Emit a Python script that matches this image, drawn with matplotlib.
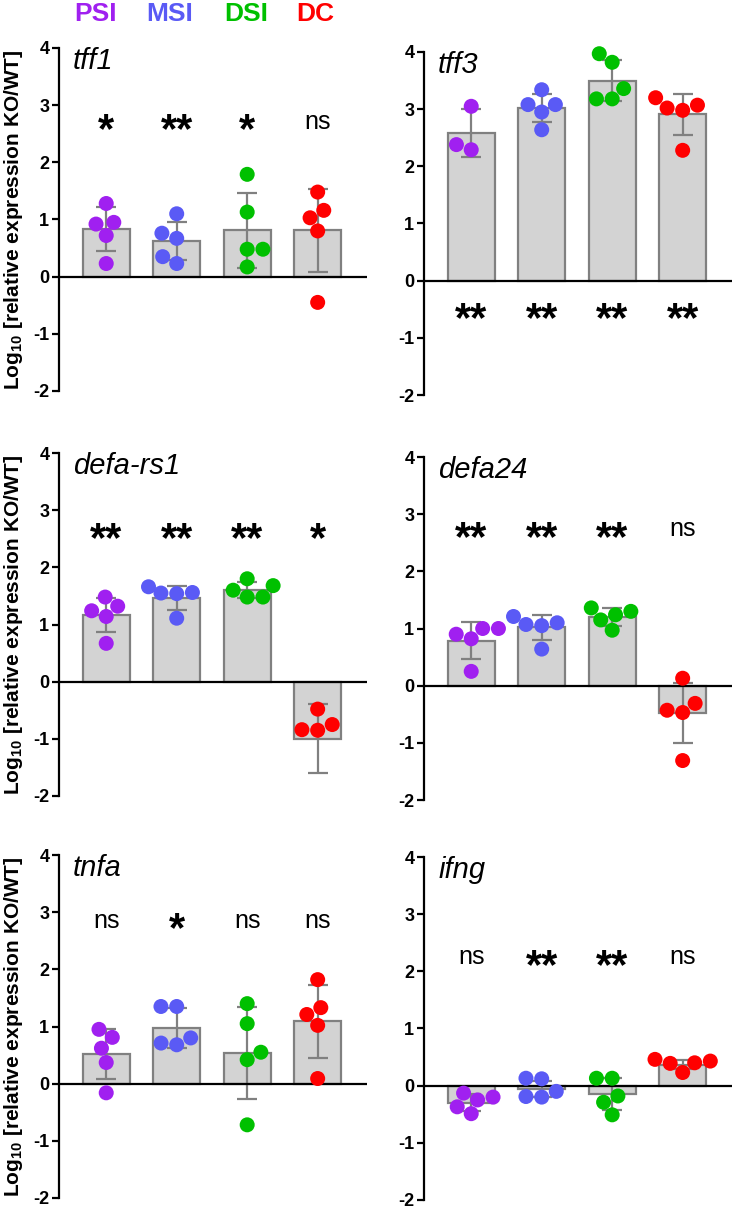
import matplotlib
matplotlib.use('Agg')
import matplotlib.pyplot as plt
import numpy as np
import pandas as pd
import seaborn as sns

plt.rcParams['font.family'] = ['Liberation Sans', 'DejaVu Sans']
plt.rcParams['mathtext.fontset'] = 'custom'
plt.rcParams['mathtext.rm'] = 'Liberation Sans'
plt.rcParams['mathtext.bf'] = 'Liberation Sans:bold'
plt.rcParams['axes.unicode_minus'] = False

groups = ['PSI', 'MSI', 'DSI', 'DC']
group_colors = ['#a020f0', '#5a5af5', '#00c000', '#ff0000']
genes = ['tff1', 'tff3', 'defa-rs1', 'defa24', 'tnfa', 'ifng']

# bar heights (mean) and SD
bar_means = {
    'tff1': [0.83, 0.63, 0.81, 0.81],
    'tff3': [2.58, 3.02, 3.50, 2.91],
    'defa-rs1': [1.17, 1.46, 1.60, -1.00],
    'defa24': [0.79, 1.02, 1.20, -0.48],
    'tnfa': [0.52, 0.98, 0.54, 1.09],
    'ifng': [-0.30, -0.05, -0.15, 0.37],
}
bar_sd = {
    'tff1': [0.38, 0.33, 0.65, 0.73],
    'tff3': [0.42, 0.25, 0.365, 0.355],
    'defa-rs1': [0.30, 0.21, 0.14, 0.605],
    'defa24': [0.315, 0.22, 0.155, 0.52],
    'tnfa': [0.445, 0.35, 0.80, 0.64],
    'ifng': [0.15, 0.14, 0.28, 0.08],
}

# individual animals
points = {
    'tff1': [[1.28, 0.92, 0.95, 0.72, 0.23],
             [1.10, 0.76, 0.67, 0.35, 0.23],
             [1.79, 1.13, 0.48, 0.48, 0.17],
             [1.48, 1.16, 1.03, 0.80, -0.45]],
    'tff3': [[3.05, 2.29, 2.38],
             [3.34, 3.08, 3.08, 2.95, 2.64],
             [3.97, 3.82, 3.36, 3.18, 3.18],
             [3.20, 3.02, 2.98, 3.07, 2.28]],
    'defa-rs1': [[1.48, 1.24, 1.32, 1.14, 0.67],
                 [1.66, 1.55, 1.54, 1.56, 1.11],
                 [1.80, 1.60, 1.68, 1.48, 1.48],
                 [-0.48, -0.75, -0.85, -0.84]],
    'defa24': [[1.00, 1.00, 0.90, 0.82, 0.25],
               [1.21, 1.07, 1.05, 1.10, 0.64],
               [1.36, 1.24, 1.30, 1.15, 0.97],
               [0.13, -0.31, -0.43, -0.47, -1.31]],
    'tnfa': [[0.95, 0.81, 0.62, 0.37, -0.16],
             [1.35, 1.35, 0.80, 0.68, 0.71],
             [1.40, 1.05, 0.55, 0.42, -0.72],
             [1.82, 1.33, 1.21, 1.02, 0.09]],
    'ifng': [[-0.13, -0.25, -0.20, -0.37, -0.49],
             [0.13, 0.12, -0.10, -0.20, -0.19],
             [0.13, 0.13, -0.18, -0.29, -0.51],
             [0.46, 0.40, 0.39, 0.43, 0.23]],
}

sig_labels = {
    'tff1': ['*', '**', '*', 'ns'],
    'tff3': ['**', '**', '**', '**'],
    'defa-rs1': ['**', '**', '**', '*'],
    'defa24': ['**', '**', '**', 'ns'],
    'tnfa': ['ns', '*', 'ns', 'ns'],
    'ifng': ['ns', '**', '**', 'ns'],
}
sig_y = {'tff1': 2.70, 'tff3': -0.53, 'defa-rs1': 2.63,
         'defa24': 2.73, 'tnfa': 2.84, 'ifng': 2.24}

W, H = 733, 1211
fig = plt.figure(figsize=(W / 100, H / 100), dpi=100)

# axes boxes in pixels: (left, top) for each panel
lefts = [59, 424]
tops = [[48, 453, 855], [52, 457, 857]]
ax_w, ax_h = 308, 343

x = np.arange(len(groups))
ylabel = r'Log$_{\mathbf{10}}$ [relative expression KO/WT]'

for i, gene in enumerate(genes):
    col = i % 2
    row = i // 2
    l = lefts[col]
    t = tops[col][row]
    ax = fig.add_axes([l / W, 1 - (t + ax_h) / H, ax_w / W, ax_h / H])

    ax.bar(x, bar_means[gene], width=0.67, color='#d3d3d3',
           edgecolor='#808080', linewidth=1.6, zorder=1)
    ax.errorbar(x, bar_means[gene], yerr=bar_sd[gene], fmt='none',
                ecolor='#808080', elinewidth=1.6, capsize=7.5,
                capthick=1.6, zorder=2)
    ax.axhline(0, color='black', lw=1.6, zorder=2.5)

    rows = []
    for g, vals in zip(groups, points[gene]):
        for v in vals:
            rows.append((g, v))
    df = pd.DataFrame(rows, columns=['group', 'value'])
    sns.swarmplot(data=df, x='group', y='value', hue='group', order=groups,
                  hue_order=groups, palette=group_colors, size=10.8,
                  linewidth=0, legend=False, ax=ax, zorder=3, clip_on=False)

    for xi, lab in zip(x, sig_labels[gene]):
        if '*' in lab:
            fs = 30
            dy = -0.48 * fs
            fw = 'bold'
        else:
            fs = 18
            dy = -0.26 * fs
            fw = 'normal'
        ax.annotate(lab, (xi, sig_y[gene]), xytext=(0, dy),
                    textcoords='offset points', ha='center', va='baseline',
                    fontsize=fs, fontweight=fw, color='black')

    ax.text(0.046, 0.94, gene, transform=ax.transAxes, fontsize=21,
            fontstyle='italic', ha='left', va='baseline')

    ax.set_xlim(-0.67, 3.70)
    ax.set_ylim(-2, 4)
    ax.set_yticks(range(-2, 5))
    ax.set_xticks([])
    ax.set_xlabel('')
    ax.set_ylabel('')
    for s in ['top', 'right', 'bottom']:
        ax.spines[s].set_visible(False)
    ax.spines['left'].set_linewidth(1.6)
    ax.spines['left'].set_bounds(-2, 4)
    ax.tick_params(axis='y', direction='out', length=5, width=1.6,
                   labelsize=13, pad=2)
    for lbl in ax.get_yticklabels():
        lbl.set_fontweight('bold')
    ax.patch.set_visible(False)

    if col == 0:
        fig.text(14 / W, 1 - (t + ax_h / 2) / H, ylabel, rotation=90,
                 ha='center', va='center', fontsize=15, fontweight='bold')

# colour key across the top
key_x = [95, 170, 246, 315]
for kx, g, c in zip(key_x, groups, group_colors):
    fig.text(kx / W, 1 - 14 / H, g, color=c, fontsize=19, fontweight='bold',
             ha='center', va='center')

fig.savefig('out.png', dpi=100)
